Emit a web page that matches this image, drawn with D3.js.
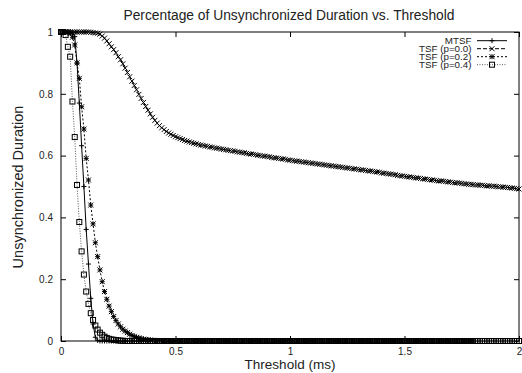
<!DOCTYPE html>
<html><head><meta charset="utf-8">
<script src="https://cdn.jsdelivr.net/npm/d3@7"></script>
<style>body{margin:0;background:#fff}svg{display:block}text{font-family:"Liberation Sans",Arial,sans-serif;fill:#222}</style>
</head><body><div id="chart"></div>
<script>
const title = "Percentage of Unsynchronized Duration vs. Threshold";
const xLabel = "Threshold (ms)";
const yLabel = "Unsynchronized Duration";
const xTicks = [0, 0.5, 1, 1.5, 2];
const xTickLabels = ["0", "0.5", "1", "1.5", "2"];
const yTicks = [0, 0.2, 0.4, 0.6, 0.8, 1];
const yTickLabels = ["0", "0.2", "0.4", "0.6", "0.8", "1"];
const seriesNames = ["MTSF", "TSF (p=0.0)", "TSF (p=0.2)", "TSF (p=0.4)"];
// thresholds 0.00 .. 2.00 ms in 0.01 steps
const thresholds = d3.range(0, 201).map(i => i / 100);

const mtsf = [
1,1,1,1,1,0.998,0.985,0.899,0.77,0.632,
0.5,0.361,0.249,0.138,0.055,0.012,0.002,0,0,0,
0,0,0,0,0,0,0,0,0,0, 0,0,0,0,0,0,0,0,0,0,
0,0,0,0,0,0,0,0,0,0, 0,0,0,0,0,0,0,0,0,0,
0,0,0,0,0,0,0,0,0,0, 0,0,0,0,0,0,0,0,0,0,
0,0,0,0,0,0,0,0,0,0, 0,0,0,0,0,0,0,0,0,0,
0,0,0,0,0,0,0,0,0,0, 0,0,0,0,0,0,0,0,0,0,
0,0,0,0,0,0,0,0,0,0, 0,0,0,0,0,0,0,0,0,0,
0,0,0,0,0,0,0,0,0,0, 0,0,0,0,0,0,0,0,0,0,
0,0,0,0,0,0,0,0,0,0, 0,0,0,0,0,0,0,0,0,0,
0];

const tsf00 = [
1,1,1,1,1,1,1,1,1,1,
1,1,1,0.999,0.998,0.997,0.996,0.993,0.987,0.98,
0.971,0.962,0.952,0.943,0.933,0.92,0.91,0.897,0.883,0.869,
0.855,0.841,0.827,0.813,0.798,0.785,0.772,0.759,0.747,0.735,
0.724,0.714,0.705,0.697,0.69,0.684,0.678,0.673,0.669,0.665,
0.661,0.658,0.655,0.652,0.649,0.647,0.644,0.642,0.64,0.638,
0.636,0.634,0.633,0.631,0.63,0.628,0.627,0.625,0.624,0.623,
0.621,0.62,0.619,0.617,0.616,0.615,0.614,0.612,0.611,0.61,
0.609,0.607,0.606,0.605,0.604,0.603,0.601,0.6,0.599,0.598,
0.597,0.596,0.594,0.593,0.592,0.591,0.59,0.589,0.588,0.586,
0.585,0.584,0.583,0.582,0.581,0.58,0.579,0.578,0.577,0.576,
0.575,0.574,0.573,0.572,0.571,0.57,0.569,0.568,0.567,0.566,
0.565,0.564,0.563,0.562,0.561,0.56,0.559,0.558,0.557,0.556,
0.555,0.554,0.553,0.552,0.551,0.55,0.549,0.548,0.547,0.546,
0.544,0.543,0.542,0.541,0.54,0.539,0.538,0.536,0.535,0.534,
0.533,0.532,0.531,0.53,0.529,0.528,0.527,0.526,0.525,0.524,
0.523,0.522,0.521,0.52,0.519,0.518,0.518,0.517,0.516,0.515,
0.514,0.513,0.512,0.512,0.511,0.51,0.509,0.508,0.507,0.507,
0.506,0.505,0.505,0.504,0.504,0.503,0.502,0.502,0.501,0.501,
0.5,0.499,0.499,0.498,0.497,0.497,0.496,0.495,0.494,0.493,
0.492];

const tsf02 = [
1,1,1,1,0.995,0.983,0.958,0.9,0.85,0.758,
0.686,0.591,0.521,0.44,0.379,0.318,0.273,0.23,0.192,0.16,
0.135,0.113,0.095,0.079,0.066,0.055,0.046,0.038,0.032,0.027,
0.022,0.018,0.015,0.012,0.01,0.008,0.006,0.005,0.004,0.003,
0.002,0.002,0.001,0.001,0.001,0,0,0,0,0,
0,0,0,0,0,0,0,0,0,0, 0,0,0,0,0,0,0,0,0,0,
0,0,0,0,0,0,0,0,0,0, 0,0,0,0,0,0,0,0,0,0,
0,0,0,0,0,0,0,0,0,0, 0,0,0,0,0,0,0,0,0,0,
0,0,0,0,0,0,0,0,0,0, 0,0,0,0,0,0,0,0,0,0,
0,0,0,0,0,0,0,0,0,0, 0,0,0,0,0,0,0,0,0,0,
0,0,0,0,0,0,0,0,0,0, 0,0,0,0,0,0,0,0,0,0,
0,0,0,0,0,0,0,0,0,0,
0];

const tsf04 = [
1,1,0.99,0.952,0.92,0.775,0.66,0.505,0.385,0.29,
0.215,0.16,0.12,0.09,0.068,0.05,0.037,0.027,0.02,0.014,
0.01,0.007,0.005,0.004,0.003,0.002,0.001,0.001,0,0,
0,0,0,0,0,0,0,0,0,0, 0,0,0,0,0,0,0,0,0,0,
0,0,0,0,0,0,0,0,0,0, 0,0,0,0,0,0,0,0,0,0,
0,0,0,0,0,0,0,0,0,0, 0,0,0,0,0,0,0,0,0,0,
0,0,0,0,0,0,0,0,0,0, 0,0,0,0,0,0,0,0,0,0,
0,0,0,0,0,0,0,0,0,0, 0,0,0,0,0,0,0,0,0,0,
0,0,0,0,0,0,0,0,0,0, 0,0,0,0,0,0,0,0,0,0,
0,0,0,0,0,0,0,0,0,0, 0,0,0,0,0,0,0,0,0,0,
0,0,0,0,0,0,0,0,0,0, 0,0,0,0,0,0,0,0,0,0,
0,0,0,0,0,0,0,0,0,0,
0];

const seriesValues = [mtsf, tsf00, tsf02, tsf04];
const dashes = [null, "4,2", "2,2", "1,1.5"];
const strokes = ["#000", "#000", "#000", "#555"];
const markers = ["plus", "cross", "star", "square"];

const W = 522, H = 373;
const m = {left: 61, right: 3, top: 32, bottom: 32};
const svg = d3.select("#chart").append("svg").attr("width", W).attr("height", H);
const x = d3.scaleLinear().domain([0, 2]).range([m.left, W - m.right]);
const y = d3.scaleLinear().domain([0, 1]).range([H - m.bottom, m.top]);

svg.append("text").attr("x", 289).attr("y", 19.5).attr("text-anchor", "middle")
  .style("font-size", "13.8px").text(title);
svg.append("text").attr("x", 290).attr("y", 368.5).attr("text-anchor", "middle")
  .style("font-size", "13.5px").text(xLabel);
svg.append("text").attr("transform", `translate(23,187) rotate(-90)`).attr("text-anchor", "middle")
  .style("font-size", "14.5px").text(yLabel);

// axes with inward ticks (mirrored)
const tl = 5;
const fmtX = (d, i) => xTickLabels[i];
const fmtY = (d, i) => yTickLabels[i];
const gB = svg.append("g").attr("transform", `translate(0,${y(0)})`)
  .call(d3.axisBottom(x).tickValues(xTicks).tickFormat(fmtX).tickSizeInner(-tl).tickSizeOuter(0).tickPadding(6.5));
const gT = svg.append("g").attr("transform", `translate(0,${y(1)})`)
  .call(d3.axisTop(x).tickValues(xTicks).tickFormat("").tickSizeInner(-tl).tickSizeOuter(0));
const gL = svg.append("g").attr("transform", `translate(${x(0)},0)`)
  .call(d3.axisLeft(y).tickValues(yTicks).tickFormat(fmtY).tickSizeInner(-tl).tickSizeOuter(0).tickPadding(8));
const gR = svg.append("g").attr("transform", `translate(${x(2)},0)`)
  .call(d3.axisRight(y).tickValues(yTicks).tickFormat("").tickSizeInner(-tl).tickSizeOuter(0));
[gB, gT, gL, gR].forEach(g => {
  g.select(".domain").remove();
  g.selectAll("line").attr("stroke", "#000");
  g.selectAll("text").style("font-size", "10px").style("font-family", "'Liberation Sans',Arial,sans-serif").attr("fill", "#222");
});
svg.append("rect").attr("x", x(0)).attr("y", y(1)).attr("width", x(2) - x(0)).attr("height", y(0) - y(1))
  .attr("fill", "none").attr("stroke", "#000").attr("stroke-width", 1);

function drawMarker(g, type, cx, cy, color) {
  const s = 2.5;
  if (type === "plus" || type === "star") {
    g.append("path").attr("d", `M${cx - s},${cy}H${cx + s}M${cx},${cy - s}V${cy + s}`).attr("stroke", color).attr("stroke-width", 1).attr("fill", "none");
  }
  if (type === "cross" || type === "star") {
    g.append("path").attr("d", `M${cx - s},${cy - s}L${cx + s},${cy + s}M${cx - s},${cy + s}L${cx + s},${cy - s}`).attr("stroke", color).attr("stroke-width", 1).attr("fill", "none");
  }
  if (type === "square") {
    g.append("rect").attr("x", cx - s).attr("y", cy - s).attr("width", 2 * s).attr("height", 2 * s).attr("stroke", color).attr("stroke-width", 1).attr("fill", "none");
  }
}

seriesValues.forEach((vals, si) => {
  const g = svg.append("g");
  const pts = thresholds.map((t, i) => [t, vals[i]]).filter(d => d[1] !== undefined);
  g.append("path").datum(pts)
    .attr("d", d3.line().x(d => x(d[0])).y(d => y(d[1])))
    .attr("fill", "none").attr("stroke", strokes[si]).attr("stroke-width", 1)
    .attr("stroke-dasharray", dashes[si]);
  pts.forEach(p => drawMarker(g, markers[si], x(p[0]), y(p[1]), "#000"));
});

// legend
const lg = svg.append("g");
seriesNames.forEach((name, i) => {
  const cy = 40.7 + i * 8;
  lg.append("text").attr("x", 471.5).attr("y", cy + 3.4).attr("text-anchor", "end")
    .style("font-size", "9.8px").text(name);
  lg.append("line").attr("x1", 477).attr("x2", 507).attr("y1", cy).attr("y2", cy)
    .attr("stroke", strokes[i]).attr("stroke-width", 1).attr("stroke-dasharray", dashes[i]);
  drawMarker(lg, markers[i], 492, cy, "#000");
});
</script></body></html>
